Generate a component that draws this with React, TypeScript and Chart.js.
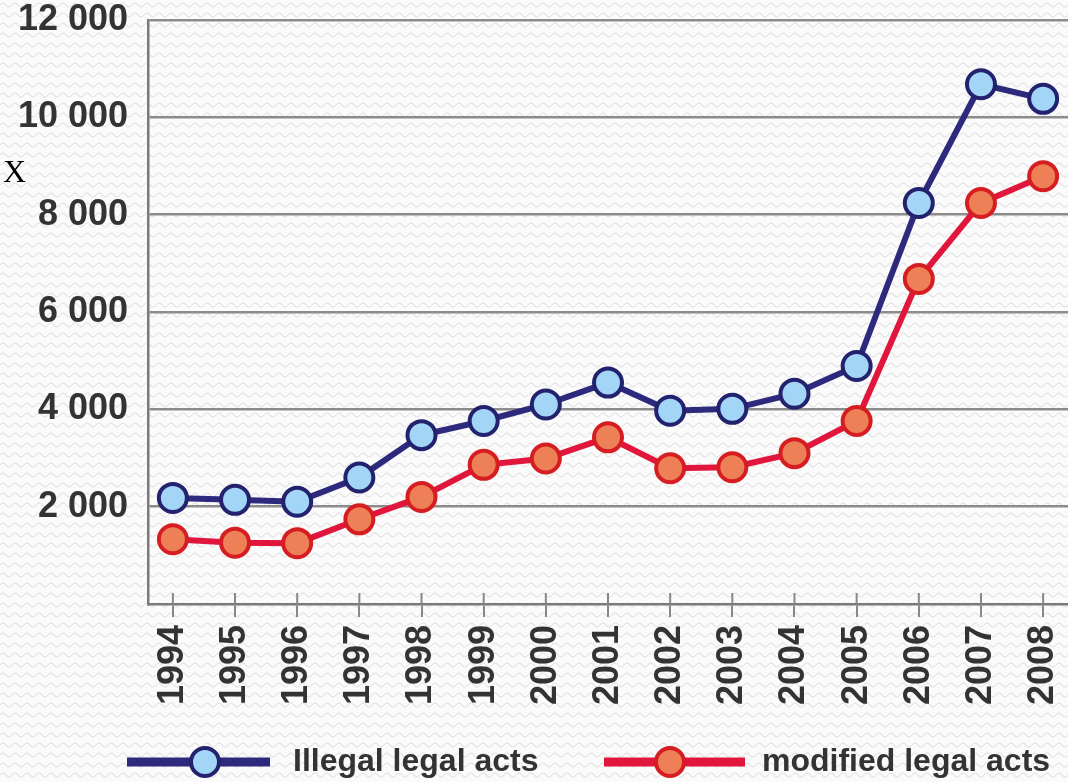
import React, { useEffect, useRef } from "react";
import { Chart, registerables } from "chart.js";

Chart.register(...registerables);

const years = [1994, 1995, 1996, 1997, 1998, 1999, 2000, 2001, 2002, 2003, 2004, 2005, 2006, 2007, 2008];
const illegalActs = [2180, 2140, 2100, 2600, 3470, 3760, 4100, 4550, 3970, 4010, 4320, 4890, 8240, 10680, 10380];
const modifiedActs = [1330, 1260, 1250, 1740, 2200, 2860, 2990, 3425, 2790, 2810, 3100, 3760, 6680, 8240, 8790];
const seriesNames = ["Illegal legal acts", "modified legal acts"];
const yTicks = [0, 2000, 4000, 6000, 8000, 10000, 12000];

const W = 1068;
const H = 782;

function fmt(v: number): string {
  if (v === 0) return "";
  return String(v).replace(/\B(?=(\d{3})+(?!\d))/g, " ");
}

function makePattern(ctx: CanvasRenderingContext2D) {
  const c = document.createElement("canvas");
  c.width = 12;
  c.height = 10;
  const p = c.getContext("2d")!;
  p.fillStyle = "#fbfbfb";
  p.fillRect(0, 0, 12, 10);
  p.strokeStyle = "#e8e8e8";
  p.lineWidth = 1.4;
  p.beginPath();
  p.moveTo(0, 5);
  p.quadraticCurveTo(3, 1, 6, 5);
  p.quadraticCurveTo(9, 9, 12, 5);
  p.stroke();
  return ctx.createPattern(c, "repeat");
}

const bgPlugin = {
  id: "bgPattern",
  beforeDraw(chart: any) {
    const ctx = chart.ctx as CanvasRenderingContext2D;
    ctx.save();
    const pat = makePattern(ctx);
    ctx.fillStyle = pat || "#fbfbfb";
    ctx.fillRect(0, 0, chart.width, chart.height);
    ctx.restore();
  },
};

const extrasPlugin = {
  id: "extras",
  afterDraw(chart: any) {
    const ctx = chart.ctx as CanvasRenderingContext2D;
    const xs = chart.scales.x;
    const bottom = chart.chartArea.bottom;
    ctx.save();
    // upper part of x tick marks
    ctx.strokeStyle = "#888888";
    ctx.lineWidth = 2;
    years.forEach((yr) => {
      const px = xs.getPixelForValue(yr);
      ctx.beginPath();
      ctx.moveTo(px, bottom - 11);
      ctx.lineTo(px, bottom);
      ctx.stroke();
    });
    // legend
    const legendY = 762;
    const items = [
      { x1: 127, x2: 270, cx: 205, tx: 293 },
      { x1: 604, x2: 745, cx: 670, tx: 762 },
    ];
    chart.data.datasets.forEach((ds: any, i: number) => {
      const it = items[i];
      ctx.strokeStyle = ds.borderColor;
      ctx.lineWidth = 9;
      ctx.beginPath();
      ctx.moveTo(it.x1, legendY);
      ctx.lineTo(it.x2, legendY);
      ctx.stroke();
      ctx.beginPath();
      ctx.arc(it.cx, legendY, 14, 0, Math.PI * 2);
      ctx.fillStyle = ds.pointBackgroundColor;
      ctx.fill();
      ctx.lineWidth = 4;
      ctx.strokeStyle = ds.pointBorderColor;
      ctx.stroke();
      ctx.fillStyle = "#333333";
      ctx.font = "bold 32px 'Liberation Sans', Arial, sans-serif";
      ctx.textAlign = "left";
      ctx.textBaseline = "middle";
      ctx.fillText(ds.label, it.tx, legendY);
    });
    ctx.restore();
  },
};

export default function App() {
  const canvasRef = useRef<HTMLCanvasElement | null>(null);

  useEffect(() => {
    if (!canvasRef.current) return;
    const chart = new Chart(canvasRef.current, {
      type: "line",
      data: {
        datasets: [
          {
            label: seriesNames[0],
            data: years.map((y, i) => ({ x: y, y: illegalActs[i] })),
            borderColor: "#2d2a7e",
            borderWidth: 6,
            pointRadius: 14,
            pointBorderWidth: 4,
            pointBackgroundColor: "#a3d6f6",
            pointBorderColor: "#23226f",
            tension: 0,
            clip: false,
          },
          {
            label: seriesNames[1],
            data: years.map((y, i) => ({ x: y, y: modifiedActs[i] })),
            borderColor: "#e0163c",
            borderWidth: 6,
            pointRadius: 14,
            pointBorderWidth: 4,
            pointBackgroundColor: "#ee8058",
            pointBorderColor: "#d61e22",
            tension: 0,
            clip: false,
          },
        ],
      },
      options: {
        responsive: false,
        animation: false,
        layout: { autoPadding: false, padding: { top: 20, left: 0, right: 0, bottom: 53 } },
        plugins: {
          legend: { display: false },
          tooltip: { enabled: false },
        },
        scales: {
          x: {
            type: "linear",
            min: years[0] - 0.4,
            max: years[years.length - 1] + 0.4,
            afterBuildTicks: (scale: any) => {
              scale.ticks = years.map((v) => ({ value: v }));
            },
            afterFit: (scale: any) => {
              scale.height = 125;
              scale.paddingLeft = 0;
              scale.paddingRight = 0;
            },
            border: { display: true, color: "#7a7a7a", width: 2.5 },
            grid: {
              drawOnChartArea: false,
              drawTicks: true,
              tickLength: 13,
              color: "#888888",
              lineWidth: 2,
            },
            ticks: {
              autoSkip: false,
              minRotation: 90,
              maxRotation: 90,
              padding: 8,
              color: "#333333",
              font: { family: "'Liberation Sans', Arial, sans-serif", size: 36, weight: "bold" },
              callback: (v: any) => String(v),
            },
          },
          y: {
            min: 0,
            max: 12000,
            afterBuildTicks: (scale: any) => {
              scale.ticks = yTicks.map((v) => ({ value: v }));
            },
            afterFit: (scale: any) => {
              scale.width = 148;
              scale.paddingTop = 0;
              scale.paddingBottom = 0;
            },
            border: { display: true, color: "#7a7a7a", width: 2.5 },
            grid: {
              drawTicks: false,
              color: (c: any) => (c.tick && c.tick.value === 0 ? "rgba(0,0,0,0)" : "#8c8c8c"),
              lineWidth: 2.5,
            },
            ticks: {
              padding: 20,
              color: "#333333",
              font: { family: "'Liberation Sans', Arial, sans-serif", size: 36, weight: "bold" },
              callback: (v: any) => fmt(Number(v)),
            },
          },
        },
      } as any,
      plugins: [bgPlugin, extrasPlugin],
    });
    return () => chart.destroy();
  }, []);

  return (
    <div style={{ position: "fixed", left: 0, top: 0, width: W, height: H, background: "#fbfbfb" }}>
      <canvas ref={canvasRef} width={W} height={H} style={{ width: W, height: H, display: "block" }} />
      <div
        style={{
          position: "absolute",
          left: 3,
          top: 155,
          fontFamily: "'Liberation Serif', 'Times New Roman', serif",
          fontSize: 32,
          lineHeight: "32px",
          color: "#000",
        }}
      >
        X
      </div>
    </div>
  );
}
